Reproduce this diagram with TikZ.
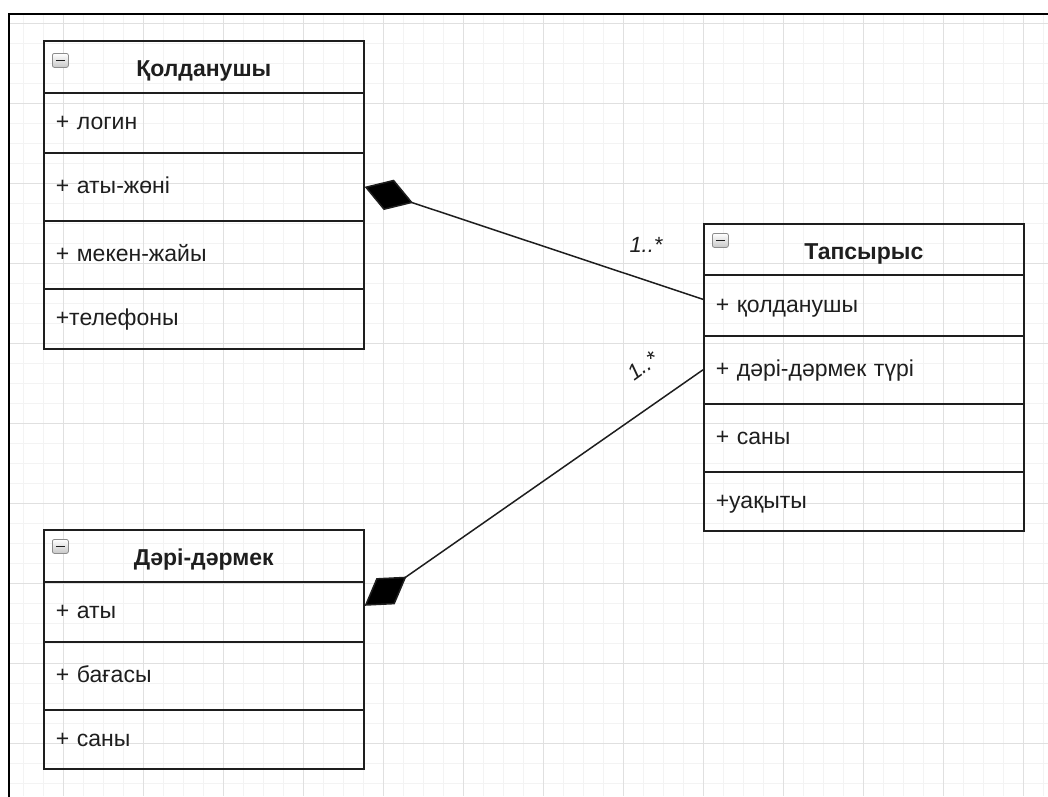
\documentclass[tikz,border=0pt]{standalone}
\usepackage{fontspec}
\setmainfont{Liberation Sans}
\usetikzlibrary{arrows.meta}

\definecolor{gridminor}{HTML}{F3F3F3}
\definecolor{gridmajor}{HTML}{E0E0E0}
\definecolor{ink}{HTML}{1E1E1E}
\definecolor{iconedge}{HTML}{8C8C8C}

\tikzset{
  umlrow/.style={draw=ink, line width=1.6pt, anchor=north west,
    minimum width=320pt, text width=296pt, inner xsep=12pt, inner ysep=0pt,
    align=left, text height=14pt, text depth=0pt, text=ink,
    font=\fontsize{23}{27}\selectfont},
  umlhead/.style={umlrow, align=center, text height=20pt,
    font=\fontsize{23}{27}\selectfont\bfseries},
  foldicon/.style={draw=iconedge, line width=0.8pt, rounded corners=2pt,
    anchor=north west, minimum width=16pt, minimum height=14pt, inner sep=0pt,
    top color=white, bottom color=black!22,
    path picture={\draw[ink, line width=1.6pt]
      ([xshift=3.5pt]path picture bounding box.west) --
      ([xshift=-3.5pt]path picture bounding box.east);}},
  composition/.style={draw=ink, line width=1.5pt,
    -{Diamond[length=51pt, width=32pt, fill=black]}},
  mult/.style={text=ink, inner sep=0pt, font=\fontsize{22}{26}\selectfont\itshape},
  minorline/.style={draw=gridminor, line width=1pt},
  majorline/.style={draw=gridmajor, line width=1pt},
}

\begin{document}
\begin{tikzpicture}[x=1pt, y=-1pt]
  \useasboundingbox (0,0) rectangle (1048,796);

  % background grid
  \foreach \x in {23,43,...,1043} \draw[minorline] (\x,14) -- (\x,796);
  \foreach \y in {23,43,...,783} \draw[minorline] (9,\y) -- (1048,\y);
  \foreach \x in {63,143,...,1023} \draw[majorline] (\x,14) -- (\x,796);
  \foreach \y in {23,103,...,743} \draw[majorline] (9,\y) -- (1048,\y);

  % frame
  \draw[black, line width=2pt] (1050,14) -- (9,14) -- (9,798);

  % class: Қолданушы
  \node[umlhead, minimum height=52pt] (kh) at (43,40) {Қолданушы};
  \node[umlrow, minimum height=60pt] (k1) at (43,92) {+ логин};
  \node[umlrow, minimum height=68pt] (k2) at (43,152) {+ аты-жөні};
  \node[umlrow, minimum height=68pt] (k3) at (43,220) {+ мекен-жайы};
  \node[umlrow, minimum height=60pt] (k4) at (43,288) {+телефоны};
  \node[foldicon] (ki) at ([shift={(9,13)}]kh.north west) {};

  % class: Тапсырыс
  \node[umlhead, minimum height=51pt] (th) at (703,223) {Тапсырыс};
  \node[umlrow, minimum height=61pt] (t1) at (703,274) {+ қолданушы};
  \node[umlrow, minimum height=68pt] (t2) at (703,335) {+ дәрі-дәрмек түрі};
  \node[umlrow, minimum height=68pt] (t3) at (703,403) {+ саны};
  \node[umlrow, minimum height=59pt] (t4) at (703,471) {+уақыты};
  \node[foldicon] (ti) at ([shift={(9,10)}]th.north west) {};

  % class: Дәрі-дәрмек
  \node[umlhead, minimum height=52pt] (dh) at (43,529) {Дәрі-дәрмек};
  \node[umlrow, minimum height=60pt] (d1) at (43,581) {+ аты};
  \node[umlrow, minimum height=68pt] (d2) at (43,641) {+ бағасы};
  \node[umlrow, minimum height=59pt] (d3) at (43,709) {+ саны};
  \node[foldicon] (di) at ([shift={(9,10)}]dh.north west) {};

  % compositions
  \draw[composition] ([yshift=6pt]t1.west) -- (k2.east);
  \draw[composition] (t2.west) -- ([yshift=6pt]d1.east);

  % multiplicities
  \node[mult] (m1) at (646,245) {1..*};
  \node[mult, rotate=36] (m2) at (643,366) {1..*};
\end{tikzpicture}
\end{document}
